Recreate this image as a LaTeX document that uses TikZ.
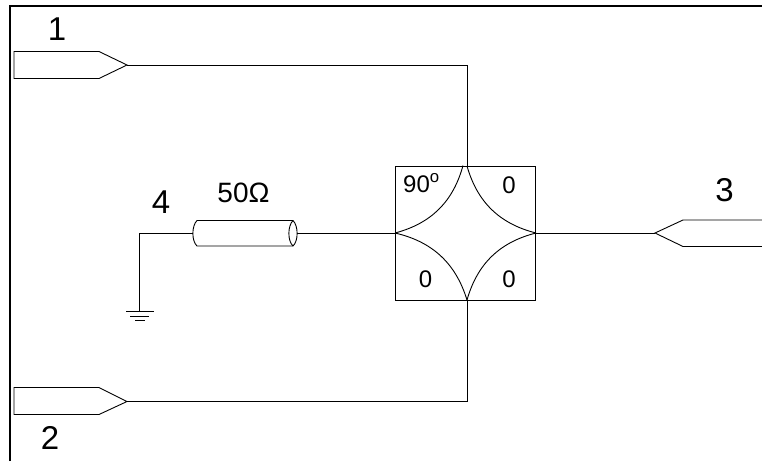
\documentclass[tikz,border=0pt]{standalone}
\usepackage{fontspec}
\setmainfont{Liberation Sans}
\tikzset{
  wire/.style={line width=0.9pt},
  port/.style={draw=none, fill=none, inner sep=0pt, font=\fontsize{33}{33}\selectfont},
  weight/.style={draw=none, fill=none, inner sep=0pt, font=\fontsize{24}{24}\selectfont},
}
\begin{document}
\begin{tikzpicture}[x=1pt,y=-1pt]
    \useasboundingbox (0,0) rectangle (762,461);
    \coordinate (c1) at (127,65);
    \coordinate (c2) at (127,401.5);
    \coordinate (c3) at (655,233);
    \coordinate (n) at (467,166);
    \coordinate (s) at (467,300);
    \coordinate (w) at (395,233);
    \coordinate (e) at (536,233);
    \coordinate (nw) at (463,165.5);
    \coordinate (t1) at (467,65);
    \coordinate (t2) at (467,401.5);
    \coordinate (g) at (139.5,233);
    \coordinate (g0) at (139.5,311.5);
    \coordinate (a) at (193,233);
    \coordinate (b) at (297,233);

    \node (l1) [port] at (57,29) {1};
    \node (l2) [port] at (50,437.5) {2};
    \node (l3) [port] at (724.5,190) {3};
    \node (l4) [port] at (161,202) {4};
    \node (r) [weight, font=\fontsize{28}{28}\selectfont] at (243.5,193) {50Ω};
    \node (q1) [weight, anchor=base west] at (403,192) {90\textsuperscript{o}};
    \node (q2) [weight] at (509,185) {0};
    \node (q3) [weight] at (425.5,279) {0};
    \node (q4) [weight] at (509,279) {0};

  % frame
  \draw [line width=2pt] (10,461) -- (10,5.7) -- (762,5.7);
  % ports
  \draw [wire] (c1) -- (99,51.5) -- (14,51.5) -- (14,78.5) -- (99,78.5) -- cycle;
  \draw [wire] (c2) -- (99,387.5) -- (14,387.5) -- (14,414.5) -- (99,414.5) -- cycle;
  \draw [wire] (762,220) -- (683,220) -- (c3) -- (683,246.5) -- (762,246.5);
  % wires
  \draw [wire] (c1) -- (t1) -- (n);
  \draw [wire] (c2) -- (t2) -- (s);
  \draw [wire] (e) -- (c3);
  \draw [wire] (b) -- (w);
  \draw [wire] (a) -- (g) -- (g0);
  % coupler
  \draw [wire] (395.5,166) rectangle (535.5,300);
  \draw [wire] (nw) to [bend left=30] (w);
  \draw [wire] (n) to [bend right=30] (e);
  \draw [wire] (s) to [bend right=30] (w);
  \draw [wire] (s) to [bend left=30] (e);
  % terminator
  \draw [wire] (197,220.5) .. controls (191.5,226) and (191.5,241) .. (197,246) -- (293,246)
     .. controls (298.5,241) and (298.5,226) .. (293,220.5) -- cycle;
  \draw [wire] (293,220.5) .. controls (287.5,226) and (287.5,241) .. (293,246);
  % ground
  \draw [wire] (126,311.5) -- (154,311.5);
  \draw [wire] (130,316) -- (149,316);
  \draw [wire] (135,320.5) -- (145,320.5);
\end{tikzpicture}
\end{document}
